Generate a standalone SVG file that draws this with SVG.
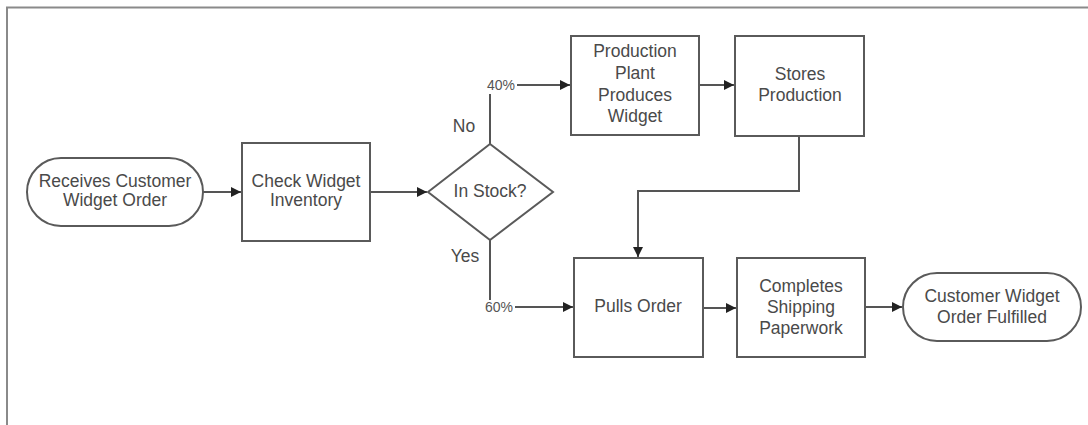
<svg xmlns="http://www.w3.org/2000/svg" width="1088" height="425" viewBox="0 0 1088 425">
  <style>
    .shape { fill: #ffffff; stroke: #5a5a5a; stroke-width: 2; }
    .lbl { font-family: "Liberation Sans", Arial, sans-serif; font-size: 17.5px; fill: #4a4a4a; text-anchor: middle; }
    .pct { font-family: "Liberation Sans", Arial, sans-serif; font-size: 14px; fill: #555555; }
    .conn { fill: none; stroke: #555555; stroke-width: 2; }
  </style>
  <defs>
    <marker id="arrow" viewBox="0 0 10 10" refX="10" refY="5" markerWidth="5" markerHeight="5" orient="auto" markerUnits="strokeWidth">
      <path d="M0,0 L10,5 L0,10 Z" fill="#222222"/>
    </marker>
  </defs>

  <rect width="1088" height="425" fill="#ffffff"/>
  <!-- frame edges -->
  <path d="M7,425 V7.5 H1088" fill="none" stroke="#8a8a8a" stroke-width="2"/>

  <g id="connectors">
    <line class="conn" x1="203" y1="192" x2="241" y2="192" marker-end="url(#arrow)"/>
    <line class="conn" x1="370" y1="192" x2="427" y2="192" marker-end="url(#arrow)"/>
    <!-- No branch -->
    <line class="conn" x1="490" y1="144" x2="490" y2="94"/>
    <line class="conn" x1="517" y1="85" x2="570" y2="85" marker-end="url(#arrow)"/>
    <!-- Yes branch -->
    <line class="conn" x1="490" y1="240" x2="490" y2="300"/>
    <line class="conn" x1="515" y1="307" x2="573" y2="307" marker-end="url(#arrow)"/>
    <line class="conn" x1="699" y1="85" x2="734" y2="85" marker-end="url(#arrow)"/>
    <polyline class="conn" points="799,136 799,191 638,191 638,257" marker-end="url(#arrow)"/>
    <line class="conn" x1="703" y1="308" x2="736" y2="308" marker-end="url(#arrow)"/>
    <line class="conn" x1="865" y1="307" x2="902" y2="307" marker-end="url(#arrow)"/>
    <text class="pct" x="487" y="90">40%</text>
    <text class="pct" x="485" y="312">60%</text>
    <text class="lbl" x="464" y="132">No</text>
    <text class="lbl" x="465" y="262">Yes</text>
  </g>

  <g id="start">
    <rect class="shape" x="27" y="158" width="176" height="68" rx="34" ry="34"/>
    <text class="lbl" x="115" y="187">Receives Customer</text>
    <text class="lbl" x="115" y="206">Widget Order</text>
  </g>

  <g id="check-inventory">
    <rect class="shape" x="242" y="143" width="128" height="98"/>
    <text class="lbl" x="306" y="187">Check Widget</text>
    <text class="lbl" x="306" y="206">Inventory</text>
  </g>

  <g id="in-stock">
    <polygon class="shape" points="428,192 490,144 553,192 490,240"/>
    <text class="lbl" x="490" y="197">In Stock?</text>
  </g>

  <g id="plant-produces">
    <rect class="shape" x="571" y="36" width="128" height="99"/>
    <text class="lbl" x="635" y="57">Production</text>
    <text class="lbl" x="635" y="79">Plant</text>
    <text class="lbl" x="635" y="101">Produces</text>
    <text class="lbl" x="635" y="122">Widget</text>
  </g>

  <g id="stores-production">
    <rect class="shape" x="735" y="36" width="129" height="100"/>
    <text class="lbl" x="800" y="80">Stores</text>
    <text class="lbl" x="800" y="101">Production</text>
  </g>

  <g id="pulls-order">
    <rect class="shape" x="574" y="258" width="129" height="99"/>
    <text class="lbl" x="638" y="312">Pulls Order</text>
  </g>

  <g id="shipping-paperwork">
    <rect class="shape" x="737" y="258" width="128" height="99"/>
    <text class="lbl" x="801" y="292">Completes</text>
    <text class="lbl" x="801" y="313">Shipping</text>
    <text class="lbl" x="801" y="334">Paperwork</text>
  </g>

  <g id="end">
    <rect class="shape" x="903" y="273" width="178" height="68" rx="34" ry="34"/>
    <text class="lbl" x="992" y="302">Customer Widget</text>
    <text class="lbl" x="992" y="323">Order Fulfilled</text>
  </g>
</svg>
